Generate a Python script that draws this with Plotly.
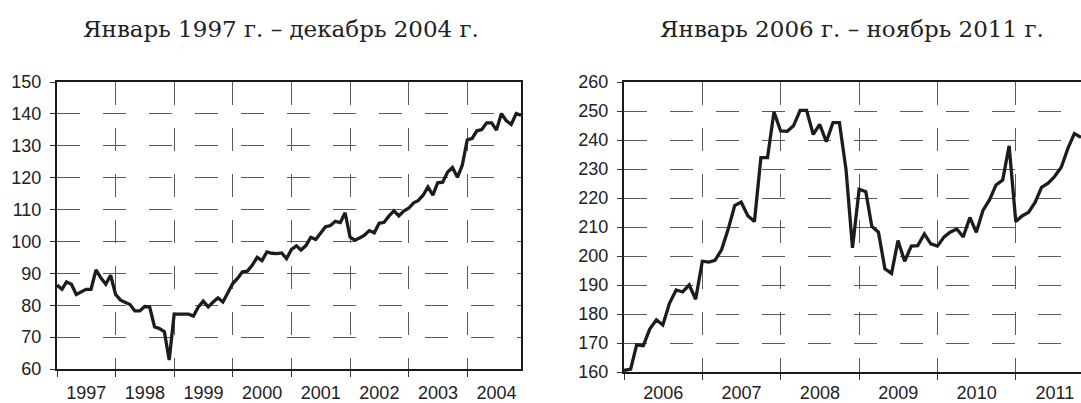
import pandas as pd
import plotly.graph_objects as go

# ---------------- data ----------------
left_title = "Январь 1997 г. – декабрь 2004 г."
right_title = "Январь 2006 г. – ноябрь 2011 г."

left_start = "1997-01-01"
left_values = [
    86.3, 85.0, 87.3, 86.6, 83.4, 84.2, 85.0, 85.0, 91.1, 88.6, 86.6, 89.4,   # 1997
    83.4, 81.6, 80.8, 80.2, 78.2, 78.2, 79.6, 79.5, 73.2, 72.7, 71.7, 62.8,   # 1998
    77.2, 77.2, 77.2, 77.2, 76.6, 79.5, 81.3, 79.5, 81.0, 82.3, 81.0, 83.6,   # 1999
    86.8, 88.5, 90.5, 90.7, 92.5, 95.0, 94.0, 96.7, 96.3, 96.2, 96.4, 94.6,   # 2000
    97.5, 98.6, 97.3, 98.7, 101.3, 100.6, 102.5, 104.6, 105.0, 106.3, 105.9, 109.0,  # 2001
    101.3, 100.4, 101.1, 102.0, 103.4, 102.7, 105.7, 106.0, 108.0, 109.6, 108.0, 109.5,  # 2002
    110.4, 112.1, 112.8, 114.5, 117.1, 114.5, 118.4, 118.6, 121.8, 123.2, 120.1, 123.9,  # 2003
    131.8, 132.3, 134.7, 135.1, 137.2, 137.2, 134.9, 140.1, 137.8, 136.7, 140.1, 139.6,  # 2004
]
left_yticks = [60, 70, 80, 90, 100, 110, 120, 130, 140, 150]

right_start = "2006-01-01"
right_values = [
    160.5, 161.0, 169.4, 169.1, 174.8, 178.0, 176.2, 183.7, 188.3, 187.6, 190.0, 185.1,  # 2006
    198.2, 197.9, 198.5, 202.2, 209.1, 217.4, 218.6, 213.9, 211.9, 233.9, 233.9, 249.7,  # 2007
    243.1, 243.0, 244.9, 250.2, 250.2, 241.9, 245.4, 239.4, 246.0, 246.0, 229.7, 202.8,  # 2008
    223.0, 222.2, 210.2, 208.2, 195.6, 194.0, 205.3, 198.2, 203.4, 203.6, 207.6, 204.2,  # 2009
    203.4, 206.6, 208.2, 209.3, 206.6, 213.3, 208.2, 215.7, 219.4, 224.5, 226.2, 238.0,  # 2010
    211.9, 213.9, 215.0, 218.5, 223.7, 225.1, 227.4, 230.6, 237.1, 242.2, 240.9,          # 2011
]
right_yticks = [160, 170, 180, 190, 200, 210, 220, 230, 240, 250, 260]

# ---------------- figure ----------------
W, H = 1081, 403
left_dates = pd.date_range(left_start, periods=len(left_values), freq="MS")
right_dates = pd.date_range(right_start, periods=len(right_values), freq="MS")

LINE = "#1c1c1c"
GRID = "#5a5a5a"
TICKFONT = dict(family="Liberation Sans, Arial, sans-serif", size=18, color="#222")
TITLEFONT = dict(family="DejaVu Serif, serif", size=23, color="#222")

fig = go.Figure()
fig.add_trace(go.Scatter(x=left_dates, y=left_values, mode="lines",
                         line=dict(color=LINE, width=3.3), xaxis="x", yaxis="y",
                         showlegend=False, hoverinfo="skip"))
fig.add_trace(go.Scatter(x=right_dates, y=right_values, mode="lines",
                         line=dict(color=LINE, width=3.3), xaxis="x2", yaxis="y2",
                         showlegend=False, hoverinfo="skip"))

def px_x(p):
    return p / W

def px_y(p):
    return (H - p) / H

xcommon = dict(type="date", dtick="M12", ticklabelmode="period", tickformat="%Y",
               showgrid=True, gridcolor=GRID, gridwidth=1, griddash="23px,23px",
               showline=True, linecolor="#1a1a1a", linewidth=2, mirror=True,
               ticks="outside", ticklen=6, tickwidth=1, tickcolor="#333",
               tickfont=TICKFONT, zeroline=False, automargin=False)
ycommon = dict(showgrid=True, gridcolor=GRID, gridwidth=1, griddash="23px,23px",
               showline=True, linecolor="#1a1a1a", linewidth=2,
               ticks="outside", ticklen=5, tickwidth=1, tickcolor="#333",
               tickfont=TICKFONT, zeroline=False, ticklabelstandoff=5,
               automargin=False)

fig.update_layout(
    width=W, height=H,
    margin=dict(l=0, r=0, t=0, b=0, pad=0),
    paper_bgcolor="white", plot_bgcolor="white",
    xaxis=dict(xcommon, domain=[px_x(57), px_x(521)], anchor="y",
               range=[left_dates[0], left_dates[-1]], tick0=left_start,
               ticklabelstandoff=0),
    yaxis=dict(ycommon, domain=[px_y(369), px_y(82)], anchor="x",
               range=[60, 150], tickvals=left_yticks, mirror=True),
    xaxis2=dict(xcommon, domain=[px_x(624), 1.0], anchor="y2",
                range=[right_dates[0], right_dates[-1]], tick0=right_start,
                ticklabelstandoff=-3),
    yaxis2=dict(ycommon, domain=[px_y(372), px_y(82)], anchor="x2",
                range=[160, 260], tickvals=right_yticks, mirror=False),
    annotations=[
        dict(text=left_title, x=px_x(281), y=px_y(29), xref="paper", yref="paper",
             xanchor="center", yanchor="middle", showarrow=False, font=TITLEFONT),
        dict(text=right_title, x=px_x(852), y=px_y(29), xref="paper", yref="paper",
             xanchor="center", yanchor="middle", showarrow=False, font=TITLEFONT),
    ],
)

fig.write_html("out.html",
               config={"displayModeBar": False},
               post_script="document.body.style.margin='0px';"
                           "document.documentElement.style.overflow='hidden';")
